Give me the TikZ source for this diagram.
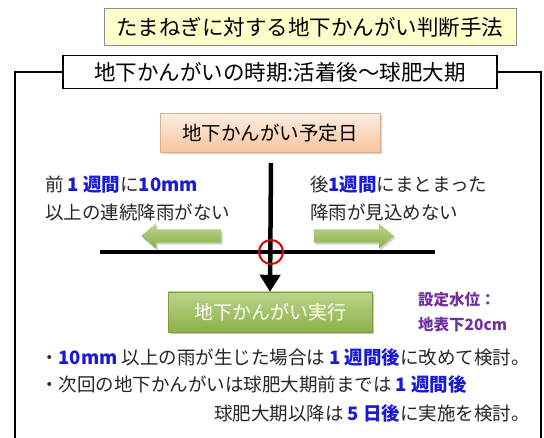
\documentclass[tikz,border=0pt]{standalone}
\usepackage{fontspec}
\setmainfont{Noto Sans CJK JP}
\usetikzlibrary{arrows.meta,shapes.arrows,shadows}
\definecolor{hiblue}{HTML}{1A1AD6}
\definecolor{hipurple}{HTML}{7030A0}
\definecolor{titlefill}{HTML}{FFFFCC}
\definecolor{orangetop}{HTML}{FDEEE2}
\definecolor{orangebot}{HTML}{F8C29C}
\definecolor{greentop}{HTML}{BDD58A}
\definecolor{greenbot}{HTML}{8BB04A}
\newcommand{\hb}[1]{{\bfseries\color{hiblue}#1}}
\begin{document}
\begin{tikzpicture}[x=1pt,y=-1pt,
  txt/.style={font=\fontsize{18.5}{20}\selectfont, inner sep=0pt, text=black!85},
  titlebox/.style={draw=black!45, fill=titlefill, minimum width=412pt, minimum height=37pt, inner sep=0pt, font=\fontsize{21.5}{24}\selectfont},
  subbox/.style={draw=black, line width=1.2pt, fill=white, minimum width=434pt, minimum height=33pt, inner sep=0pt, font=\fontsize{21.5}{23}\selectfont},
  planbox/.style={draw=orangebot!90!black, top color=orangetop, bottom color=orangebot, minimum width=220pt, minimum height=39pt, inner sep=0pt, font=\fontsize{19.5}{21}\selectfont, drop shadow={opacity=0.35, shadow xshift=2pt, shadow yshift=-2pt}},
  execbox/.style={draw=greenbot!90!black, top color=greentop, bottom color=greenbot, minimum width=204pt, minimum height=40pt, inner sep=0pt, text=white, font=\fontsize{19}{21}\selectfont, drop shadow={opacity=0.45, shadow xshift=2pt, shadow yshift=-2pt}},
  greenarrow/.style={single arrow, draw=none, top color=greentop, bottom color=greenbot, minimum height=80pt, inner sep=6.5pt, single arrow head extend=6pt, single arrow tip angle=80, drop shadow={opacity=0.35, shadow xshift=1.5pt, shadow yshift=-2pt}},
  thick line/.style={line width=4.5pt, black},
  purple txt/.style={txt, anchor=west, text=hipurple, font=\bfseries\fontsize{15.5}{18}\selectfont}
]
\useasboundingbox (0,0) rectangle (544,438);
\fill[white] (0,0) rectangle (544,438);

% title
\node[titlebox] (title) at (310,27) {たまねぎに対する地下かんがい判断手法};

% frame and subtitle
\node[subbox] (sub) at (280,72) {地下かんがいの時期:活着後～球肥大期};
\draw[line width=1.2pt] (sub.west) -- (15,72) coordinate (tl) -- (15,440) coordinate (bl);
\draw[line width=1.2pt] (sub.east) -- (541,72) coordinate (tr) -- (541,440) coordinate (br);

% planned day
\node[planbox] (plan) at (270,133) {地下かんがい予定日};

% cross
\coordinate (cross) at (271,252);
\coordinate (vtop) at (271,163);
\coordinate (hl) at (100,252);
\coordinate (hr) at (435,252);
\node[execbox] (exec) at (270,312) {地下かんがい実行};
\draw[thick line] (hl) -- (hr);
\draw[thick line, -{Triangle[width=20pt,length=17pt]}] (vtop) -- (exec.north);
\node[draw=red!85!black, line width=2pt, circle, minimum size=24pt, inner sep=0pt] (circ) at (cross) {};

% green arrows
\node[greenarrow, shape border rotate=180] (larrow) at (185,236) {};
\node[greenarrow] (rarrow) at (350,236) {};

% left / right text
\node[txt, anchor=west] (l1) at (45,185) {前 \hb{1 週間}に\hb{10mm}};
\node[txt, anchor=west] (l2) at (45,212) {以上の連続降雨がない};
\node[txt, anchor=west] (r1) at (310,185) {後\hb{1週間}にまとまった};
\node[txt, anchor=west] (r2) at (310,212) {降雨が見込めない};

% water level
\node[purple txt] (w1) at (418,300) {設定水位：};
\node[purple txt] (w2) at (418,325) {地表下20cm};

% bottom notes
\node[txt, anchor=west] (n1) at (40,357) {・\hb{10mm} 以上の雨が生じた場合は \hb{1 週間後}に改めて検討。};
\node[txt, anchor=west] (n2) at (40,384) {・次回の地下かんがいは球肥大期前までは \hb{1 週間後}};
\node[txt, anchor=east] (n3) at (530,413) {球肥大期以降は \hb{5 日後}に実施を検討。};
\end{tikzpicture}
\end{document}
